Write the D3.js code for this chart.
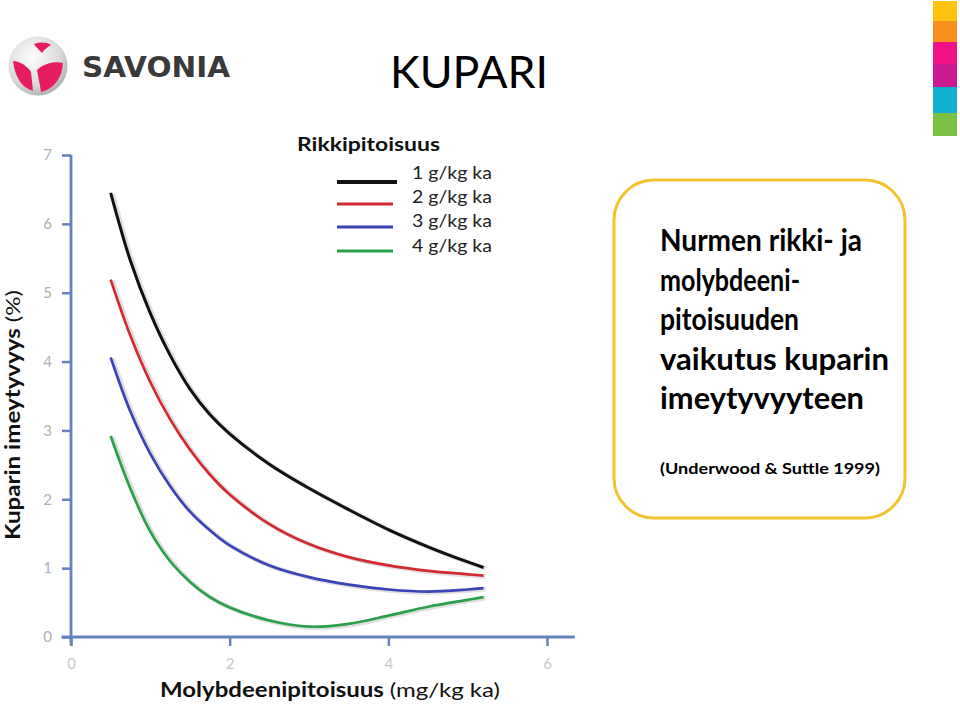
<!DOCTYPE html>
<html><head><meta charset="utf-8">
<script src="https://cdn.jsdelivr.net/npm/d3@7/dist/d3.min.js"></script>
<style>
body{margin:0;background:#fff;}
svg{display:block;}
</style></head>
<body>
<svg id="chart" width="960" height="704"></svg>
<script>
// ---- data ----
const moValues = [0.5, 0.75, 1.0, 1.25, 1.5, 1.75, 2.0, 2.5, 3.0, 3.5, 4.0, 4.5, 5.0, 5.2];
const sulphur1 = [6.45, 5.46, 4.70, 4.09, 3.60, 3.23, 2.95, 2.51, 2.16, 1.85, 1.56, 1.31, 1.09, 1.01];
const sulphur2 = [5.19, 4.37, 3.70, 3.16, 2.72, 2.36, 2.07, 1.64, 1.35, 1.16, 1.04, 0.96, 0.91, 0.89];
const sulphur3 = [4.06, 3.27, 2.66, 2.19, 1.82, 1.55, 1.33, 1.04, 0.87, 0.76, 0.69, 0.66, 0.69, 0.71];
const sulphur4 = [2.92, 2.15, 1.53, 1.10, 0.80, 0.58, 0.43, 0.24, 0.15, 0.19, 0.31, 0.44, 0.54, 0.58];
const seriesNames = ["1 g/kg ka", "2 g/kg ka", "3 g/kg ka", "4 g/kg ka"];
const seriesColors = ["#111111", "#d42a2f", "#3a44b8", "#2aa04a"];
const yTicks = [0, 1, 2, 3, 4, 5, 6, 7];
const xTicks = [0, 2, 4, 6];
const stripeColors = ["#ffc20e", "#f7901e", "#ef1288", "#cc1990", "#0fb1cf", "#79c143"];
const stripeBounds = [1, 21, 42, 64, 87, 113, 136];

const FONT = "Lato, 'Open Sans', sans-serif";
const svg = d3.select("#chart").style("font-family", FONT);

// ---- scales ----
const x = d3.scaleLinear().domain([0, 6]).range([71, 547]);
const y = d3.scaleLinear().domain([0, 7]).range([637, 155]);
const axisColor = "#6482bd";
const fmt = d3.format("d");

// ---- axes ----
const gy = svg.append("g").attr("transform", `translate(${x(0)},0)`)
  .call(d3.axisLeft(y).tickValues(yTicks).tickFormat(fmt).tickSize(9).tickSizeOuter(0).tickPadding(10));
gy.select(".domain").remove();
gy.selectAll(".tick line").attr("stroke", axisColor).attr("stroke-width", 2.5);
gy.selectAll(".tick text").attr("fill", "#b0b0b0").style("font-family", FONT).style("font-size", "15px");
svg.append("line").attr("x1", x(0)).attr("x2", x(0)).attr("y1", y(7)).attr("y2", y(-0.12))
  .attr("stroke", axisColor).attr("stroke-width", 2.8);

const gx = svg.append("g").attr("transform", `translate(0,${y(0)})`)
  .call(d3.axisBottom(x).tickValues(xTicks).tickFormat(fmt).tickSize(9).tickSizeOuter(0).tickPadding(12));
gx.select(".domain").remove();
gx.selectAll(".tick line").attr("stroke", axisColor).attr("stroke-width", 2.5);
gx.selectAll(".tick text").attr("fill", "#c8c8c8").style("font-family", FONT).style("font-size", "15px");
svg.append("line").attr("x1", x(-0.12)).attr("x2", x(6.35)).attr("y1", y(0)).attr("y2", y(0))
  .attr("stroke", axisColor).attr("stroke-width", 2.8);

// ---- lines ----
const allSeries = [sulphur1, sulphur2, sulphur3, sulphur4];
const line = d3.line().x((d, i) => x(moValues[i])).y(d => y(d)).curve(d3.curveCatmullRom.alpha(0.5));
allSeries.forEach((s, k) => {
  svg.append("path").datum(s).attr("d", line).attr("fill", "none")
    .attr("stroke", "#c4c4c4").attr("stroke-opacity", 0.55).attr("stroke-width", 4.5)
    .attr("transform", "translate(2,1)");
  svg.append("path").datum(s).attr("d", line).attr("fill", "none")
    .attr("stroke", seriesColors[k]).attr("stroke-width", k === 0 ? 3 : 2.7);
});

// ---- legend ----
svg.append("text").attr("x", 297).attr("y", 151).attr("font-weight", "bold")
  .attr("font-size", 18).attr("fill", "#111").attr("textLength", 143)
  .attr("lengthAdjust", "spacingAndGlyphs").text("Rikkipitoisuus");
const legY = [182, 204, 227, 251];
const legTextY = [179, 203, 227, 252];
seriesNames.forEach((n, k) => {
  svg.append("line").attr("x1", 337).attr("x2", k === 0 ? 397 : 393).attr("y1", legY[k]).attr("y2", legY[k])
    .attr("stroke", seriesColors[k]).attr("stroke-width", k === 0 ? 4 : 3);
  svg.append("text").attr("x", 412).attr("y", legTextY[k]).attr("font-size", 17).attr("fill", "#222")
    .attr("textLength", 80).attr("lengthAdjust", "spacingAndGlyphs").text(n);
});

// ---- titles ----
svg.append("text").attr("x", 390).attr("y", 88).attr("font-size", 44).attr("fill", "#000")
  .attr("textLength", 158).attr("lengthAdjust", "spacingAndGlyphs").text("KUPARI");

const yl = svg.append("text").attr("transform", "translate(20,415) rotate(-90)")
  .attr("text-anchor", "middle").attr("font-size", 20).attr("fill", "#111")
  .attr("textLength", 250).attr("lengthAdjust", "spacingAndGlyphs");
yl.append("tspan").attr("font-weight", "bold").text("Kuparin imeytyvyys ");
yl.append("tspan").text("(%)");

const xl = svg.append("text").attr("x", 160).attr("y", 697).attr("font-size", 20).attr("fill", "#111")
  .attr("textLength", 340).attr("lengthAdjust", "spacingAndGlyphs");
xl.append("tspan").attr("font-weight", "bold").text("Molybdeenipitoisuus ");
xl.append("tspan").text("(mg/kg ka)");

// ---- info box ----
svg.append("rect").attr("x", 614).attr("y", 180).attr("width", 291).attr("height", 338).attr("rx", 40)
  .attr("fill", "#fff").attr("stroke", "#f2c230").attr("stroke-width", 3);
const boxLines = ["Nurmen rikki- ja", "molybdeeni-", "pitoisuuden", "vaikutus kuparin", "imeytyvyyteen"];
const boxWidths = [202, 140, 139, 229, 204];
boxLines.forEach((t, i) => {
  svg.append("text").attr("x", 660).attr("y", 251 + i * 39.5).attr("font-size", 30).attr("font-weight", "bold")
    .attr("fill", "#000").attr("textLength", boxWidths[i]).attr("lengthAdjust", "spacingAndGlyphs").text(t);
});
svg.append("text").attr("x", 660).attr("y", 474).attr("font-size", 16).attr("font-weight", "bold")
  .attr("fill", "#000").attr("textLength", 220).attr("lengthAdjust", "spacingAndGlyphs").text("(Underwood & Suttle 1999)");

// ---- colour stripe ----
stripeColors.forEach((c, i) => {
  svg.append("rect").attr("x", 933).attr("y", stripeBounds[i]).attr("width", 24)
    .attr("height", stripeBounds[i + 1] - stripeBounds[i]).attr("fill", c);
});

// ---- logo ----
const defs = svg.append("defs");
const rg = defs.append("radialGradient").attr("id", "ball").attr("cx", "40%").attr("cy", "35%").attr("r", "70%");
rg.append("stop").attr("offset", "0%").attr("stop-color", "#ffffff");
rg.append("stop").attr("offset", "70%").attr("stop-color", "#d8d8d8");
rg.append("stop").attr("offset", "100%").attr("stop-color", "#a9a9a9");
const logo = svg.append("g");
logo.append("circle").attr("cx", 38).attr("cy", 66).attr("r", 29.5).attr("fill", "url(#ball)");
logo.append("path").attr("d", "M34,44 C40,42 46,42 51,45 C47,47 44,50 42,53 C39,50 36,47 34,44 Z").attr("fill", "#e51c62");
logo.append("path").attr("d", "M13,61 C20,61 27,66 31,72 L33,91 C23,88 15,79 13,61 Z").attr("fill", "#e51c62");
logo.append("path").attr("d", "M37,70 C44,63 56,61 63,63 C62,78 54,89 41,92 C40,84 38,77 37,70 Z").attr("fill", "#e51c62");
svg.append("text").attr("x", 82).attr("y", 77)
  .style("font-family", "'DejaVu Sans', 'Liberation Sans', sans-serif")
  .attr("font-weight", "bold").attr("font-size", 29).attr("fill", "#3a3a3a")
  .attr("textLength", 148).attr("lengthAdjust", "spacingAndGlyphs").text("SAVONIA");
</script>
</body></html>
